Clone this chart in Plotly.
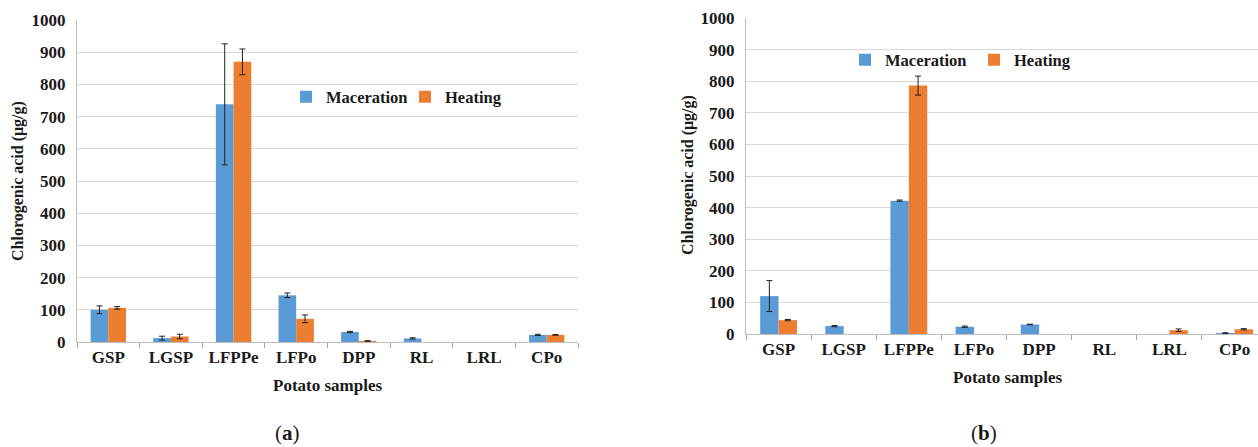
import plotly.graph_objects as go

categories = ["GSP", "LGSP", "LFPPe", "LFPo", "DPP", "RL", "LRL", "CPo"]

# Panel (a)
a_maceration = [100, 12, 738, 145, 31, 11, 0, 22]
a_maceration_err = [12, 6, 188, 7, 2, 2, 0, 2]
a_heating = [106, 17, 870, 72, 3, 0, 0, 22]
a_heating_err = [4, 7, 40, 12, 1, 0, 0, 1]

# Panel (b)
b_maceration = [120, 25, 422, 23, 30, 0, 0, 3]
b_maceration_err = [49, 2, 2, 2, 1, 0, 0, 1]
b_heating = [44, 0, 786, 0, 0, 0, 12, 15]
b_heating_err = [2, 0, 30, 0, 0, 0, 4, 2]

y_ticks = [0, 100, 200, 300, 400, 500, 600, 700, 800, 900, 1000]

BLUE = "#5B9BD5"
ORANGE = "#ED7D31"
FONT = "Liberation Serif, Times New Roman, Times, serif"
W, H = 1258, 447

fig = go.Figure()

def add(x, y, err, name, color, xa, ya, leg):
    fig.add_trace(go.Bar(
        x=x, y=[v if v else None for v in y], name=name,
        marker=dict(color=color, line=dict(width=0)),
        error_y=dict(type="data", array=[e if e else None for e in err], visible=True,
                     color="#222222", thickness=1, width=3),
        xaxis=xa, yaxis=ya, legend=leg,
    ))

add(categories, a_maceration, a_maceration_err, "Maceration", BLUE, "x", "y", "legend")
add(categories, a_heating, a_heating_err, "Heating", ORANGE, "x", "y", "legend")
add(categories, b_maceration, b_maceration_err, "Maceration", BLUE, "x2", "y2", "legend2")
add(categories, b_heating, b_heating_err, "Heating", ORANGE, "x2", "y2", "legend2")

tickfont = dict(family=FONT, size=17, color="#1a1a1a", weight="bold")

xcommon = dict(type="category", categoryorder="array", categoryarray=categories,
               tickson="boundaries", ticks="outside", ticklen=5, tickcolor="#a6a6a6",
               showline=True, linecolor="#bfbfbf", linewidth=1, showgrid=False,
               tickfont=tickfont, fixedrange=True, automargin=False)
ycommon = dict(range=[0, 1000], tickvals=y_ticks, showgrid=True, gridcolor="#d9d9d9",
               gridwidth=1, showline=True, linecolor="#bfbfbf", linewidth=1,
               ticks="", tickfont=tickfont, zeroline=False, ticklabelstandoff=7,
               automargin=False, fixedrange=True)

legfont = dict(family=FONT, size=16.5, color="#1a1a1a", weight="bold")

fig.update_layout(
    width=W, height=H,
    margin=dict(l=0, r=0, t=0, b=0, autoexpand=False),
    paper_bgcolor="white", plot_bgcolor="white",
    barmode="group", bargap=0.435, bargroupgap=0,
    showlegend=True,
    xaxis=dict(domain=[77 / W, 578 / W], anchor="y", range=[-0.5, 7.5], **xcommon),
    yaxis=dict(domain=[1 - 342 / H, 1 - 20 / H], anchor="x", **ycommon),
    xaxis2=dict(domain=[746 / W, 1.0], anchor="y2", range=[-0.5, 7.36], **xcommon),
    yaxis2=dict(domain=[1 - 334 / H, 1 - 18 / H], anchor="x2", **ycommon),
    legend=dict(orientation="h", x=286 / W, y=1 - 97 / H, xanchor="left", yanchor="middle",
                font=legfont, bgcolor="rgba(0,0,0,0)", itemwidth=30,
                entrywidth=74, entrywidthmode="pixels"),
    legend2=dict(orientation="h", x=845 / W, y=1 - 60 / H, xanchor="left", yanchor="middle",
                 font=legfont, bgcolor="rgba(0,0,0,0)", itemwidth=30,
                 entrywidth=84, entrywidthmode="pixels"),
)

ann_font = dict(family=FONT, size=16, color="#1a1a1a", weight="bold")
anns = [
    dict(text="Chlorogenic acid (μg/g)", x=18 / W, y=1 - 181 / H, textangle=-90, font=ann_font),
    dict(text="Chlorogenic acid (μg/g)", x=688 / W, y=1 - 175 / H, textangle=-90, font=ann_font),
    dict(text="Potato samples", x=327 / W, y=1 - 385 / H, font=dict(ann_font, size=17)),
    dict(text="Potato samples", x=1007 / W, y=1 - 377 / H, font=dict(ann_font, size=17)),
    dict(text="(<b>a</b>)", x=287 / W, y=1 - 433 / H, font=dict(family=FONT, size=21, color="#1a1a1a")),
    dict(text="(<b>b</b>)", x=984 / W, y=1 - 433 / H, font=dict(family=FONT, size=21, color="#1a1a1a")),
]
for a in anns:
    fig.add_annotation(xref="paper", yref="paper", showarrow=False,
                       xanchor="center", yanchor="middle", **a)

fig.write_html("out.html", config={"displayModeBar": False},
               post_script="document.body.style.margin='0';document.body.style.padding='0';")
